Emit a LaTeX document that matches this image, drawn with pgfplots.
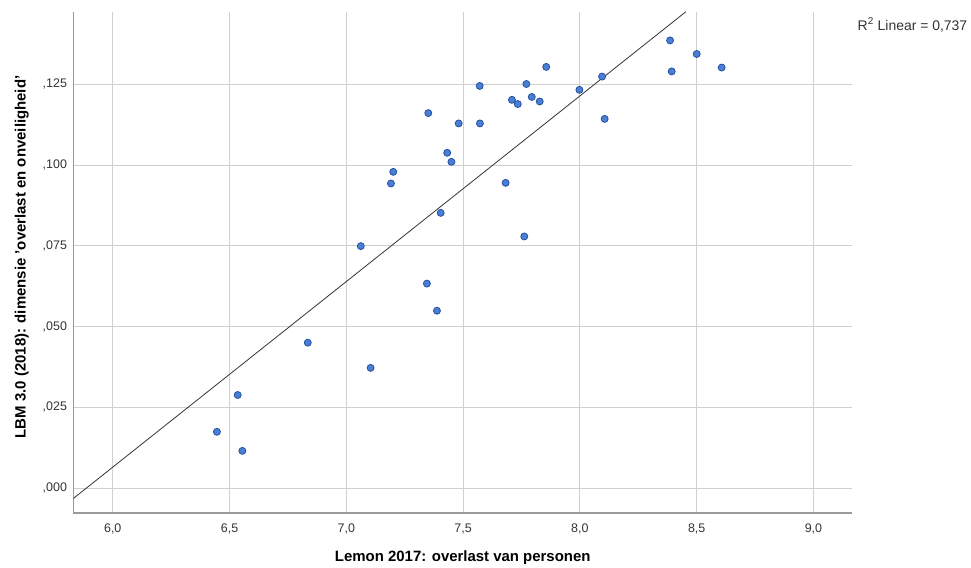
\documentclass[border=0pt]{standalone}
\usepackage{fontspec}
\setmainfont{Liberation Sans}
\usepackage{pgfplots}
\pgfplotsset{compat=1.18}
\definecolor{ptfill}{HTML}{4A7FD6}
\definecolor{ptedge}{HTML}{24509E}
\definecolor{gridc}{HTML}{D0D0D0}
\definecolor{axc}{HTML}{9A9A9A}
\begin{document}
\begin{tikzpicture}
\useasboundingbox (-73.5bp,-55bp) rectangle (897.5bp,513bp);
\begin{axis}[
  at={(0,0)}, anchor=south west,
  scale only axis,
  width=778.5bp, height=501bp,
  xmin=5.832, xmax=9.165,
  ymin=-0.00774, ymax=0.1474,
  axis lines*=left,
  axis line style={draw=axc, line width=1.6pt, -},
  xtick={6,6.5,7,7.5,8,8.5,9},
  xticklabels={{6,0},{6,5},{7,0},{7,5},{8,0},{8,5},{9,0}},
  ytick={0,0.025,0.05,0.075,0.1,0.125},
  yticklabels={{,000},{,025},{,050},{,075},{,100},{,125}},
  scaled y ticks=false,
  major tick length=0pt,
  tick style={draw=none},
  grid=major,
  major grid style={draw=gridc, line width=1pt},
  tick label style={font=\fontsize{12.5}{14}\selectfont, text=black!80},
  xticklabel style={yshift=-7bp},
  yticklabel style={xshift=-3bp},
  xlabel={\textbf{Lemon 2017: overlast van personen}},
  ylabel={\textbf{LBM 3.0 (2018): dimensie 'overlast en onveiligheid'}},
  label style={font=\fontsize{15}{17}\selectfont},
  xlabel style={at={(axis description cs:0.5,-0.09)}, anchor=center},
  ylabel style={at={(axis description cs:-0.0665,0.511)}, anchor=center},
  clip=true,
]
\addplot[draw=black!80, line width=0.8pt] coordinates {(5.832,-0.0032) (8.454,0.1475)};
\addplot[only marks, mark=*, mark size=3.5bp, mark options={fill=ptfill, draw=ptedge, line width=0.8pt}] coordinates {
(7.571,0.1245) (7.771,0.1251) (7.856,0.1304) (7.351,0.1161) (7.481,0.1129)
(7.572,0.1129) (7.709,0.1202) (7.734,0.1189) (7.794,0.1211) (7.828,0.1197)
(7.432,0.1038) (7.450,0.1010) (7.201,0.0979) (7.191,0.0943) (7.682,0.0945)
(7.404,0.0852) (7.762,0.0779) (7.062,0.0749)
(8.386,0.1386) (8.500,0.1344) (8.393,0.1290) (8.607,0.1302) (8.095,0.1274)
(7.998,0.1233) (8.106,0.1143)
(7.345,0.0633) (7.388,0.0549) (6.835,0.0450) (7.104,0.0372) (6.535,0.0288)
(6.446,0.0174) (6.555,0.0115)
};
\end{axis}
\node[anchor=west, font=\fontsize{14}{16}\selectfont, text=black!80, inner sep=0pt] at (784bp,488bp) {R\textsuperscript{\fontsize{10}{12}\selectfont 2} Linear = 0,737};
\end{tikzpicture}
\end{document}
